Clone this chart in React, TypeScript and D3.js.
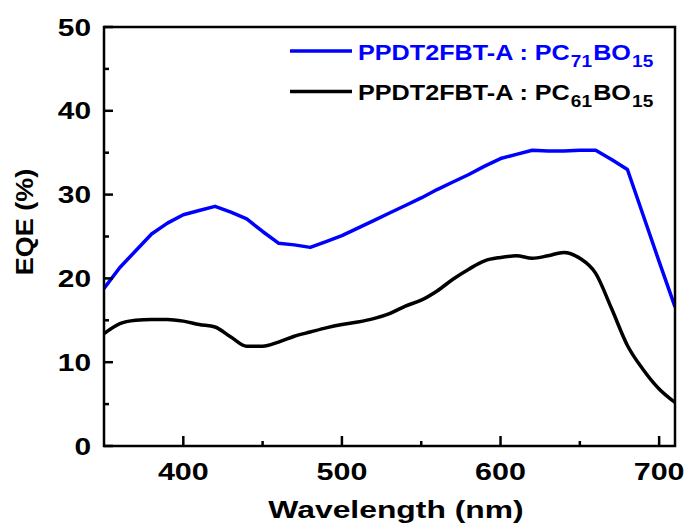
import React from "react";
import * as d3 from "d3";

const wavelengths = [350,360,370,380,390,400,410,420,430,440,450,460,470,480,490,500,510,520,530,540,550,560,570,580,590,600,610,620,630,640,650,660,670,680,690,700,710];
const eqePC71 = [18.8,21.3,23.3,25.3,26.6,27.6,28.1,28.6,27.9,27.1,25.6,24.2,24.0,23.7,24.4,25.1,26.0,26.9,27.8,28.7,29.6,30.6,31.5,32.4,33.4,34.3,34.8,35.3,35.2,35.2,35.3,35.3,34.2,33.0,27.5,22.0,16.6];
const eqePC61 = [13.4,14.6,15.0,15.1,15.1,14.9,14.5,14.2,13.0,11.9,11.9,12.4,13.1,13.6,14.1,14.5,14.8,15.2,15.8,16.7,17.4,18.5,19.9,21.1,22.1,22.5,22.7,22.4,22.7,23.1,22.4,20.6,16.4,12.0,9.1,6.8,5.2];
const xTicks = [400,500,600,700];
const xMinor = [450,550,650];
const yTicks = [0,10,20,30,40,50];
const yMinor = [5,15,25,35,45];

export default function App() {
  const W = 689, H = 532;
  const left = 104, right = 675, top = 27, bottom = 446;
  const x = d3.scaleLinear().domain([350, 710]).range([left, right]);
  const y = d3.scaleLinear().domain([0, 50]).range([bottom, top]);
  const blueLine = d3.line<number>().x((_, i) => x(wavelengths[i])).y(d => y(d)).curve(d3.curveLinear);
  const blackLine = d3.line<number>().x((_, i) => x(wavelengths[i])).y(d => y(d)).curve(d3.curveMonotoneX);
  const font = "'Liberation Sans', Arial, sans-serif";
  const sx = 1.27;

  return (
    <svg width={W} height={H} style={{ position: "absolute", left: 0, top: 0 }} fontFamily={font} fontWeight="bold">
      <rect x={0} y={0} width={W} height={H} fill="#fff" />
      <defs>
        <clipPath id="plot">
          <rect x={left} y={top} width={right - left} height={bottom - top} />
        </clipPath>
      </defs>
      <g clipPath="url(#plot)">
        <path d={blueLine(eqePC71) || ""} fill="none" stroke="#0000ff" strokeWidth={3.5} strokeLinejoin="round" />
        <path d={blackLine(eqePC61) || ""} fill="none" stroke="#000" strokeWidth={3.5} strokeLinejoin="round" />
      </g>
      <rect x={left} y={top} width={right - left} height={bottom - top} fill="none" stroke="#000" strokeWidth={2.5} />
      {xTicks.map(t => (
        <g key={"xt" + t}>
          <line x1={x(t)} x2={x(t)} y1={bottom} y2={bottom - 10} stroke="#000" strokeWidth={2.5} />
          <g transform={`translate(${x(t)},${480}) scale(${sx},1)`}>
            <text textAnchor="middle" fontSize={24} fill="#000">{t}</text>
          </g>
        </g>
      ))}
      {xMinor.map(t => (
        <line key={"xm" + t} x1={x(t)} x2={x(t)} y1={bottom} y2={bottom - 5} stroke="#000" strokeWidth={2.5} />
      ))}
      {yTicks.map(t => (
        <g key={"yt" + t}>
          <line x1={left} x2={left + 9} y1={y(t)} y2={y(t)} stroke="#000" strokeWidth={2.5} />
          <g transform={`translate(${91},${y(t) + 8.5}) scale(${sx},1)`}>
            <text textAnchor="end" fontSize={23.5} fill="#000">{t}</text>
          </g>
        </g>
      ))}
      {yMinor.map(t => (
        <line key={"ym" + t} x1={left} x2={left + 5} y1={y(t)} y2={y(t)} stroke="#000" strokeWidth={2.5} />
      ))}
      <g transform={`translate(396,518) scale(1.3,1)`}>
        <text textAnchor="middle" fontSize={24.5} fill="#000">Wavelength (nm)</text>
      </g>
      <g transform={`translate(33,222) rotate(-90) scale(1.1,1)`}>
        <text textAnchor="middle" fontSize={24.5} fill="#000">EQE (%)</text>
      </g>
      <line x1={290} x2={352} y1={51} y2={51} stroke="#0000ff" strokeWidth={3.5} />
      <g transform={`translate(358,59.5) scale(1.12,1)`}>
        <text fontSize={22.5} fill="#0000ff">
          PPDT2FBT-A : PC<tspan fontSize={17} dy={7} dx={1}>71</tspan><tspan dy={-7} dx={1}>BO</tspan><tspan fontSize={17} dy={7} dx={1}>15</tspan>
        </text>
      </g>
      <line x1={290} x2={352} y1={91.5} y2={91.5} stroke="#000" strokeWidth={3.5} />
      <g transform={`translate(358,100) scale(1.12,1)`}>
        <text fontSize={22.5} fill="#000">
          PPDT2FBT-A : PC<tspan fontSize={17} dy={7} dx={1}>61</tspan><tspan dy={-7} dx={1}>BO</tspan><tspan fontSize={17} dy={7} dx={1}>15</tspan>
        </text>
      </g>
    </svg>
  );
}
